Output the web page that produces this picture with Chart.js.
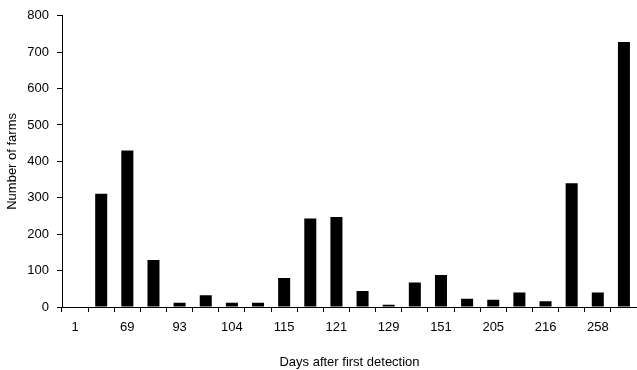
<!DOCTYPE html>
<html>
<head>
<meta charset="utf-8">
<script src="https://cdn.jsdelivr.net/npm/chart.js@4/dist/chart.umd.min.js"></script>
<style>
  html, body { margin: 0; padding: 0; background: #fff; }
  #wrap { width: 637px; height: 370px; }
</style>
</head>
<body>
<div id="wrap"><canvas id="farmsChart" width="637" height="370"></canvas></div>
<script>
// day labels (only every other category is labelled in the original)
const dayLabels = ['1', '', '69', '', '93', '', '104', '', '115', '', '121', '',
                   '129', '', '151', '', '205', '', '216', '', '258', ''];
const farmCounts = [0, 311, 430, 129, 12, 32, 12, 12, 80, 243, 247, 44,
                    6, 67, 88, 23, 20, 40, 16, 340, 40, 728];
const yTicks = [0, 100, 200, 300, 400, 500, 600, 700, 800];

const fontFamily = "'Liberation Sans', Arial, sans-serif";

function renderChart(ctx) {
    new Chart(ctx, {
        type: 'bar',
        data: {
            labels: dayLabels,
            datasets: [{
                label: 'Number of farms',
                data: farmCounts,
                backgroundColor: '#000',
                borderWidth: 0,
                barPercentage: 0.46,
                categoryPercentage: 1.0
            }]
        },
        options: {
            responsive: false,
            animation: false,
            layout: { padding: { left: 5, top: 15, right: 0, bottom: 0 } },
            plugins: {
                legend: { display: false },
                tooltip: { enabled: false }
            },
            scales: {
                x: {
                    offset: true,
                    border: { color: '#000', width: 1 },
                    grid: { color: '#000', drawOnChartArea: false, tickLength: 5, offset: true },
                    ticks: {
                        autoSkip: false, maxRotation: 0, padding: 8,
                        color: '#000', font: { family: fontFamily, size: 13 }
                    },
                    title: {
                        display: true, text: 'Days after first detection',
                        color: '#000', font: { family: fontFamily, size: 13 },
                        padding: 0
                    },
                    afterFit: scale => { scale.height = 63; }
                },
                y: {
                    min: yTicks[0],
                    max: yTicks[yTicks.length - 1],
                    afterBuildTicks: scale => { scale.ticks = yTicks.map(v => ({ value: v })); },
                    border: { color: '#000', width: 1 },
                    grid: { color: '#000', drawOnChartArea: false, tickLength: 5 },
                    ticks: {
                        padding: 8,
                        color: '#000', font: { family: fontFamily, size: 13 }
                    },
                    title: {
                        display: true, text: 'Number of farms',
                        color: '#000', font: { family: fontFamily, size: 13 },
                        padding: 0
                    },
                    afterFit: scale => { scale.width = 57; }
                }
            }
        }
    });
}

window.onload = () => {
    const ctx = document.getElementById('farmsChart').getContext('2d');
    renderChart(ctx);
};
</script>
</body>
</html>
